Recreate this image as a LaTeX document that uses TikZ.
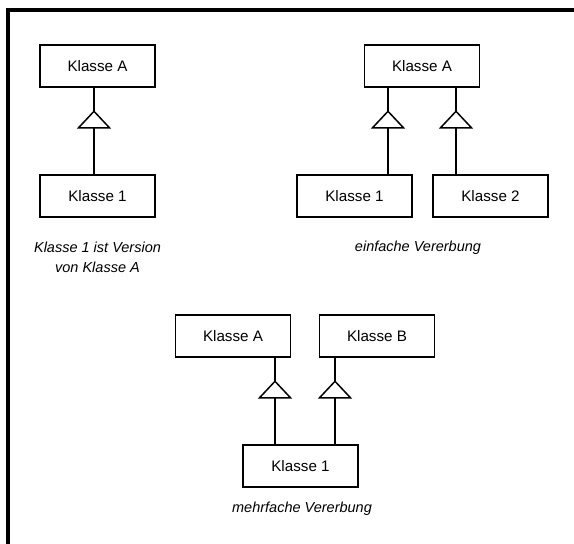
\documentclass[tikz,border=0pt]{standalone}
\usepackage{fontspec}
\setmainfont{Liberation Sans}
\usetikzlibrary{calc}
\begin{document}
\begin{tikzpicture}[x=1pt,y=-1pt,
  klasse/.style={draw,line width=1.6pt,minimum width=115pt,minimum height=42pt,
    inner sep=0pt,font=\fontsize{15.2}{18}\selectfont},
  kante/.style={line width=1.8pt},
  dreieck/.style={draw,fill=white,line width=1.5pt,line join=miter},
  notiz/.style={font=\fontsize{14.5}{20}\selectfont\itshape,align=center,inner sep=0pt},
]
% inheritance connector: vertical line from child up to parent, open triangle below parent
\newcommand\vererbung[3]{%
  \coordinate (#2-#1-o) at ($(#2.south)+(#3,0)$);
  \draw[kante] (#2-#1-o) -- (#1.north -| #2-#1-o);
  \coordinate (#2-#1-s) at ($(#2-#1-o)+(0,23.5)$);
  \draw[dreieck] (#2-#1-s) -- ++(15.5,16.5) -- ++(-31,0) -- cycle;
}
\useasboundingbox (0,0) rectangle (574,544);
% frame
\draw[line width=4pt,line join=miter] (8,544) -- (8,10) -- (574,10);

% version
\node[klasse] (a1) at (97.5,66) {Klasse A};
\node[klasse] (k1) at (97.5,196) {Klasse 1};
\vererbung{k1}{a1}{-3.5}
\node[notiz] (n1) at (97.5,257) {Klasse 1 ist Version\\von Klasse A};

% single inheritance
\node[klasse] (a2) at (422,66) {Klasse A};
\node[klasse] (k2) at (354.5,196) {Klasse 1};
\node[klasse] (k3) at (490.5,196) {Klasse 2};
\vererbung{k2}{a2}{-34}
\vererbung{k3}{a2}{34}
\node[notiz,anchor=base] (n2) at (418,251) {einfache Vererbung};

% multiple inheritance
\node[klasse] (a3) at (233,336) {Klasse A};
\node[klasse] (b3) at (377,336) {Klasse B};
\node[klasse] (k4) at (300.5,466) {Klasse 1};
\vererbung{k4}{a3}{42}
\vererbung{k4}{b3}{-42}
\node[notiz,anchor=base] (n3) at (302,512.5) {mehrfache Vererbung};
\end{tikzpicture}
\end{document}
